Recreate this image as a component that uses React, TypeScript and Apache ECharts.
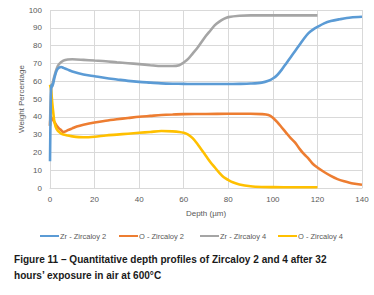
import React, { useEffect, useRef } from "react";
import * as echarts from "echarts";

const seriesNames = ["Zr - Zircaloy 2", "O - Zircaloy 2", "Zr - Zircaloy 4", "O - Zircaloy 4"];
const seriesColors = ["#5B9BD5", "#ED7D31", "#A5A5A5", "#FFC000"];

const zrZircaloy2: [number, number][] = [
  [0, 15], [0.3, 45], [0.6, 58], [1, 57], [2, 62], [3, 66], [4, 67.5], [5, 68], [6, 67.5], [8, 66.5],
  [10, 65.5], [15, 63.8], [20, 62.8], [25, 61.8], [30, 61], [35, 60.2], [40, 59.6], [45, 59.2], [50, 58.8],
  [55, 58.6], [60, 58.5], [65, 58.4], [70, 58.4], [75, 58.4], [80, 58.4], [85, 58.5], [90, 58.7], [95, 59.2],
  [98, 60.2], [100, 61.5], [102, 63.5], [104, 66.5], [106, 70], [108, 73.5], [110, 77], [112, 80.5], [114, 84],
  [116, 87], [118, 89], [120, 90.5], [123, 92.5], [126, 93.8], [130, 94.8], [135, 95.8], [140, 96.2],
];

const oZircaloy2: [number, number][] = [
  [0, 35], [0.3, 40], [1, 39], [2, 37], [3, 35], [4, 33.5], [5, 32.5], [6, 31.5], [7, 31.8], [8, 32.5],
  [10, 33.5], [12, 34.5], [15, 35.5], [20, 36.8], [25, 37.8], [30, 38.6], [35, 39.3], [40, 40], [45, 40.5],
  [50, 41], [55, 41.3], [60, 41.5], [70, 41.6], [80, 41.7], [90, 41.7], [95, 41.5], [98, 41], [100, 39.5],
  [102, 37], [104, 34], [106, 31], [108, 28], [110, 25.5], [112, 22], [114, 19], [116, 16.5], [118, 13.5],
  [120, 11.5], [123, 9], [126, 6.8], [129, 5], [132, 3.8], [136, 2.5], [140, 1.8],
];

const zrZircaloy4: [number, number][] = [
  [0, 35], [0.5, 55], [1, 58], [2, 63], [3, 67], [4, 69.5], [6, 71.5], [8, 72.2], [10, 72.3], [15, 72],
  [20, 71.6], [25, 71.2], [30, 70.6], [35, 70.1], [40, 69.6], [45, 69], [50, 68.5], [55, 68.5], [58, 69],
  [60, 70.5], [62, 72.5], [64, 75.5], [66, 78.5], [68, 82], [70, 85.5], [72, 88.5], [74, 91.5], [76, 93.5],
  [78, 95], [80, 96], [85, 96.8], [90, 97], [100, 97], [110, 97], [120, 97],
];

const oZircaloy4: [number, number][] = [
  [0, 58], [0.5, 55], [1, 48], [1.5, 42], [2, 37], [3, 33], [4.5, 31], [6, 30], [8, 29.5], [10, 29],
  [15, 28.5], [20, 28.8], [25, 29.5], [30, 30], [35, 30.5], [40, 31], [45, 31.5], [50, 32], [55, 31.8],
  [58, 31.5], [60, 31], [62, 30], [64, 28], [66, 25], [68, 21.5], [70, 18], [72, 14.5], [74, 11.5], [76, 8.5],
  [78, 6], [80, 4.5], [82, 3.2], [85, 2], [90, 1], [95, 0.6], [100, 0.5], [110, 0.4], [120, 0.4],
];

const seriesData = [zrZircaloy2, oZircaloy2, zrZircaloy4, oZircaloy4];

const xAxisName = "Depth (µm)";
const yAxisName = "Weight Percentage";
const captionLine1 = "Figure 11 – Quantitative depth profiles of Zircaloy 2 and 4 after 32";
const captionLine2 = "hours’ exposure in air at 600°C";

export default function App() {
  const ref = useRef<HTMLDivElement>(null);
  useEffect(() => {
    if (!ref.current) return;
    const chart = echarts.init(ref.current, undefined, { renderer: "svg" });
    const axisFont = "Liberation Sans, Arial, sans-serif";
    const captionFont = "Liberation Sans, Arial, sans-serif";
    const captionSize = 11;
    let scaleX = 0.8;
    try {
      const cv = document.createElement("canvas");
      const ctx = cv.getContext("2d");
      if (ctx) {
        ctx.font = `bold ${captionSize}px ${captionFont}`;
        const w = ctx.measureText(captionLine1).width;
        if (w > 0) scaleX = 313 / w;
      }
    } catch (e) {}
    const legendLefts = [40, 119, 200, 278];
    chart.setOption({
      animation: false,
      backgroundColor: "#ffffff",
      grid: { left: 50, right: 12, top: 10, bottom: 107, containLabel: false },
      xAxis: {
        type: "value",
        min: 0,
        max: 140,
        interval: 20,
        name: xAxisName,
        nameLocation: "middle",
        nameGap: 21,
        nameMoveOverlap: false,
        nameTextStyle: { fontSize: 8, color: "#595959", fontFamily: axisFont },
        axisLine: { show: true, lineStyle: { color: "#D9D9D9" } },
        axisTick: { show: false },
        axisLabel: { fontSize: 8, color: "#595959", fontFamily: axisFont, margin: 7 },
        splitLine: { show: true, lineStyle: { color: "#D9D9D9", width: 1 } },
      },
      yAxis: {
        type: "value",
        min: 0,
        max: 100,
        interval: 10,
        name: yAxisName,
        nameLocation: "middle",
        nameGap: 25,
        nameMoveOverlap: false,
        nameTextStyle: { fontSize: 8, color: "#595959", fontFamily: axisFont },
        axisLine: { show: false },
        axisTick: { show: false },
        axisLabel: { fontSize: 8, color: "#595959", fontFamily: axisFont, margin: 8 },
        splitLine: { show: true, lineStyle: { color: "#D9D9D9", width: 1 } },
      },
      legend: seriesNames.map((name, i) => ({
        left: legendLefts[i],
        top: 232,
        itemWidth: 19,
        itemHeight: 2,
        icon: "rect",
        padding: 0,
        textStyle: { fontSize: 7.5, color: "#595959", fontFamily: axisFont, padding: [0, 0, 0, -4] },
        data: [name],
      })),
      graphic: [
        {
          type: "text",
          x: 14,
          y: 253,
          scaleX,
          style: {
            text: captionLine1,
            fontSize: captionSize,
            fontWeight: "bold",
            fontFamily: captionFont,
            fill: "#1a1a1a",
          },
        },
        {
          type: "text",
          x: 14,
          y: 269,
          scaleX,
          style: {
            text: captionLine2,
            fontSize: captionSize,
            fontWeight: "bold",
            fontFamily: captionFont,
            fill: "#1a1a1a",
          },
        },
      ],
      series: seriesNames.map((name, i) => ({
        name,
        type: "line",
        data: seriesData[i],
        symbol: "none",
        smooth: 0.3,
        lineStyle: { color: seriesColors[i], width: 2.6 },
        itemStyle: { color: seriesColors[i] },
        z: i === 0 ? 3 : 2,
      })),
    });
    return () => chart.dispose();
  }, []);
  return (
    <div
      ref={ref}
      style={{ position: "fixed", left: 0, top: 0, width: 374, height: 295 }}
    />
  );
}
